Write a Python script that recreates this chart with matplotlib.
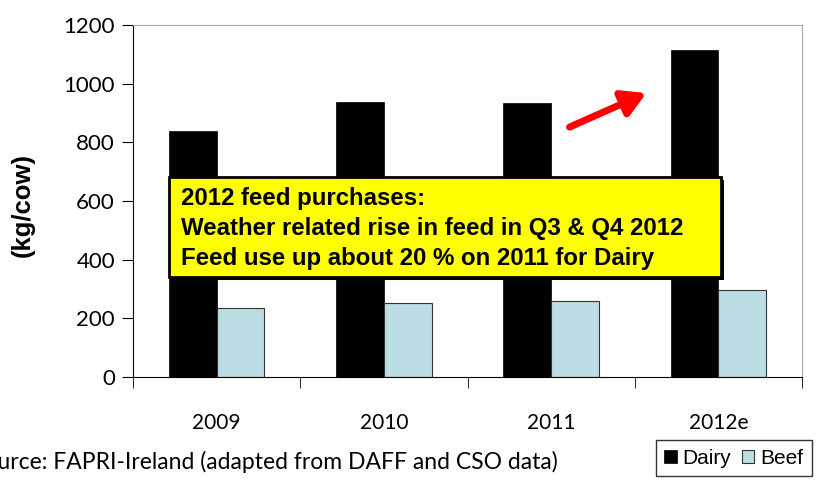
import numpy as np
import matplotlib.pyplot as plt
from matplotlib.patches import Rectangle

years = ["2009", "2010", "2011", "2012e"]
dairy = [840, 937, 934, 1115]
beef = [234, 252, 258, 298]

fig = plt.figure(figsize=(8.16, 4.80), dpi=100)
ax = fig.add_axes([133 / 816, 1 - 377 / 480, (802 - 133) / 816, 352 / 480])

x = np.arange(len(years))
w = 0.285
ax.bar(x - w / 2, dairy, w, color="black", edgecolor="black", linewidth=0.5, label="Dairy")
ax.bar(x + w / 2, beef, w, color="#bcdde3", edgecolor="#333333", linewidth=0.8, label="Beef")

ax.set_xlim(-0.5, 3.5)
ax.set_ylim(0, 1200)
ax.set_yticks(range(0, 1201, 200))
ax.set_xticks(x)
ax.set_xticklabels(years, fontname="Lato", fontsize=15)
ax.set_xticks(np.arange(-0.5, 3.6, 1), minor=True)
ax.tick_params(axis="x", which="major", length=0, pad=26)
ax.tick_params(axis="x", which="minor", length=8, direction="out", color="black")
ax.tick_params(axis="y", length=8, direction="out", labelsize=16, pad=5)
for lab in ax.get_yticklabels():
    lab.set_fontname("Lato")

ax.spines["top"].set_color("#a6a6a6")
ax.spines["right"].set_color("#a6a6a6")
ax.spines["left"].set_color("black")
ax.spines["bottom"].set_color("black")

fig.text(23 / 816, 1 - 205 / 480, "(kg/cow)", rotation=90, fontsize=18.5, fontweight="bold",
         fontname="Liberation Sans", ha="center", va="center")

# yellow note box
box_ax = fig.add_axes([0, 0, 1, 1], facecolor="none")
box_ax.set_xlim(0, 816)
box_ax.set_ylim(480, 0)
box_ax.axis("off")
box_ax.add_patch(Rectangle((172, 180), 552, 100, facecolor="black", edgecolor="none"))
box_ax.add_patch(Rectangle((169, 177), 552, 100, facecolor="#ffff00", edgecolor="black", linewidth=2))
note = ["2012 feed purchases:",
        "Weather related rise in feed in Q3 & Q4 2012",
        "Feed use up about 20 % on 2011 for Dairy"]
for i, line in enumerate(note):
    box_ax.text(181, 198 + 30 * i, line, fontsize=17.3, fontweight="bold",
                fontname="Liberation Sans", va="center", ha="left")

# red arrow
ax.annotate("", xy=(2.57, 968), xytext=(2.11, 852),
            arrowprops=dict(arrowstyle="-|>,head_length=1.4,head_width=0.8",
                            color="#ff0000", lw=5, shrinkA=0, shrinkB=0))

# source line runs off the left edge, as in the original slide
fig.text(558 / 816, 1 - 462 / 480, "Source: FAPRI-Ireland (adapted from DAFF and CSO data)",
         fontname="Lato", fontsize=16.5, ha="right", va="center")

leg = fig.legend(loc="lower right", bbox_to_anchor=(812 / 816, 4 / 480), ncol=2,
                 prop={"family": "Liberation Sans", "size": 15}, frameon=True, fancybox=False,
                 handlelength=0.6, handleheight=0.6, handletextpad=0.3, columnspacing=0.5,
                 borderpad=0.4, borderaxespad=0)
leg.get_frame().set_edgecolor("black")
leg.get_frame().set_linewidth(1)

fig.savefig("out.png", dpi=100)
